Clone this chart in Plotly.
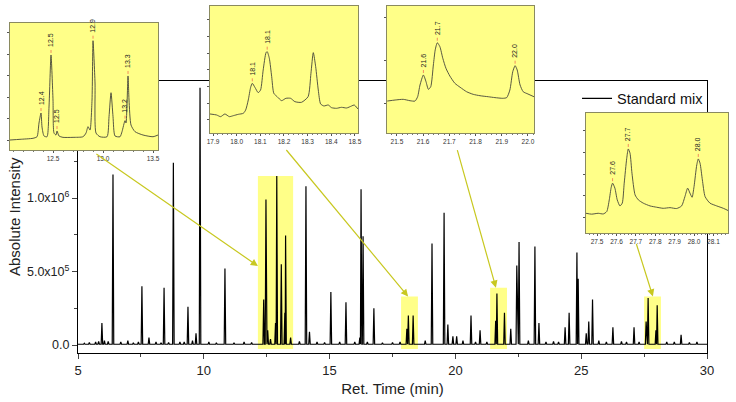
import plotly.graph_objects as go

# ---------------- data ----------------
# main chromatogram: apex retention time (min) and apex intensity
peak_rt = [5.95, 6.39, 7.54, 7.82, 8.42, 8.79, 9.37, 9.69, 9.85, 10.84,
           12.38, 12.47, 12.54, 12.85, 12.90, 13.08, 13.22, 13.25, 14.06, 14.20,
           15.05, 15.65, 16.20, 16.25, 16.33, 16.76, 18.07, 18.13, 18.32, 19.07,
           19.55, 19.70, 19.90, 20.05, 20.62, 20.98, 21.60, 21.65, 21.95, 22.20,
           22.44, 22.53, 23.16, 23.32, 24.36, 24.52, 24.83, 24.88, 25.20, 25.30,
           25.45, 26.26, 27.10, 27.58, 27.66, 27.97, 28.02, 28.97]
peak_int = [0.15e6, 1.16e6, 0.40e6, 0.05e6, 0.39e6, 1.24e6, 0.26e6, 0.08e6, 1.75e6, 0.52e6,
            0.31e6, 0.99e6, 0.10e6, 0.15e6, 1.15e6, 0.55e6, 0.22e6, 0.745e6, 1.08e6, 0.09e6,
            0.36e6, 0.29e6, 0.05e6, 1.06e6, 0.74e6, 0.25e6, 0.11e6, 0.20e6, 0.20e6, 0.69e6,
            0.90e6, 0.14e6, 0.06e6, 0.06e6, 0.20e6, 0.10e6, 0.165e6, 0.35e6, 0.22e6, 0.11e6,
            0.54e6, 0.70e6, 0.67e6, 0.15e6, 0.12e6, 0.22e6, 0.63e6, 0.45e6, 0.08e6, 0.16e6,
            0.31e6, 0.12e6, 0.12e6, 0.16e6, 0.32e6, 0.10e6, 0.27e6, 0.07e6]
# small baseline bumps
noise_rt = [5.25, 5.45, 5.70, 5.82, 6.05, 6.20, 6.70, 6.98, 7.20, 7.40, 8.10, 8.30,
            8.60, 9.05, 9.22, 9.55, 10.20, 10.50, 11.20, 11.60, 11.90, 12.65, 13.45,
            13.80, 14.50, 14.80, 15.40, 16.00, 16.50, 17.10, 17.50, 17.80, 18.80,
            20.30, 20.80, 21.25, 22.90, 23.60, 23.90, 24.10, 25.70, 26.00, 26.60,
            26.80, 27.30, 28.40, 28.70, 29.30, 29.60]
noise_int = [0.012e6, 0.018e6, 0.02e6, 0.025e6, 0.03e6, 0.025e6, 0.02e6, 0.03e6, 0.015e6,
             0.02e6, 0.02e6, 0.015e6, 0.018e6, 0.02e6, 0.02e6, 0.03e6, 0.02e6, 0.015e6,
             0.015e6, 0.02e6, 0.018e6, 0.04e6, 0.05e6, 0.025e6, 0.02e6, 0.018e6, 0.02e6,
             0.02e6, 0.02e6, 0.015e6, 0.018e6, 0.02e6, 0.03e6, 0.03e6, 0.02e6, 0.02e6,
             0.03e6, 0.02e6, 0.025e6, 0.02e6, 0.03e6, 0.02e6, 0.025e6, 0.02e6, 0.02e6,
             0.02e6, 0.02e6, 0.018e6, 0.02e6]
baseline_level = 0.005e6

# zoom windows highlighted on the main chromatogram
win_start = [12.15, 17.84, 21.38, 27.50]
win_end = [13.55, 18.51, 22.05, 28.17]
win_top = [1.15e6, 0.33e6, 0.39e6, 0.33e6]
win_bottom = -0.027e6

# inset traces (retention time, intensity)
ins1_t = [12.07, 12.17, 12.30, 12.34, 12.36, 12.38, 12.39, 12.41, 12.44, 12.46, 12.48, 12.50,
          12.51, 12.53, 12.54, 12.56, 12.60, 12.70, 12.80, 12.83, 12.85, 12.87, 12.89, 12.90,
          12.92, 12.93, 12.97, 13.04, 13.06, 13.08, 13.10, 13.12, 13.17, 13.19, 13.22, 13.23,
          13.25, 13.26, 13.28, 13.32, 13.40, 13.50, 13.55]
ins1_i = [0.0, 0.008e6, 0.02e6, 0.038e6, 0.198e6, 0.314e6, 0.151e6, 0.047e6, 0.038e6, 0.384e6,
          0.989e6, 0.465e6, 0.081e6, 0.058e6, 0.105e6, 0.047e6, 0.031e6, 0.031e6, 0.038e6,
          0.081e6, 0.155e6, 0.116e6, 0.465e6, 1.155e6, 0.663e6, 0.081e6, 0.038e6, 0.038e6,
          0.271e6, 0.55e6, 0.271e6, 0.047e6, 0.038e6, 0.097e6, 0.225e6, 0.198e6, 0.745e6,
          0.465e6, 0.174e6, 0.097e6, 0.058e6, 0.038e6, 0.058e6]
ins2_t = [17.887, 17.915, 17.932, 17.950, 17.969, 17.986, 18.007, 18.028, 18.038, 18.049,
          18.059, 18.066, 18.077, 18.091, 18.101, 18.112, 18.124, 18.129, 18.138, 18.148,
          18.157, 18.171, 18.190, 18.208, 18.228, 18.246, 18.274, 18.302, 18.314, 18.324,
          18.334, 18.345, 18.355, 18.369, 18.387, 18.401, 18.422, 18.443, 18.465, 18.486,
          18.497, 18.513]
ins2_i = [0.018e6, 0.015e6, 0.010e6, 0.018e6, 0.010e6, 0.013e6, 0.017e6, 0.020e6, 0.030e6,
          0.060e6, 0.098e6, 0.110e6, 0.098e6, 0.082e6, 0.090e6, 0.150e6, 0.202e6, 0.205e6,
          0.185e6, 0.130e6, 0.080e6, 0.070e6, 0.058e6, 0.065e6, 0.065e6, 0.055e6, 0.053e6,
          0.070e6, 0.140e6, 0.202e6, 0.160e6, 0.090e6, 0.048e6, 0.042e6, 0.045e6, 0.037e6,
          0.035e6, 0.038e6, 0.036e6, 0.042e6, 0.045e6, 0.033e6]
ins3_t = [21.463, 21.493, 21.524, 21.550, 21.569, 21.579, 21.588, 21.601, 21.611, 21.620,
          21.629, 21.639, 21.646, 21.654, 21.664, 21.675, 21.687, 21.702, 21.721, 21.741,
          21.766, 21.791, 21.817, 21.849, 21.874, 21.904, 21.919, 21.931, 21.942, 21.951,
          21.959, 21.970, 21.982, 22.000, 22.023]
ins3_i = [0.014e6, 0.020e6, 0.024e6, 0.016e6, 0.014e6, 0.039e6, 0.107e6, 0.165e6, 0.126e6,
          0.082e6, 0.097e6, 0.223e6, 0.310e6, 0.352e6, 0.329e6, 0.262e6, 0.204e6, 0.159e6,
          0.117e6, 0.094e6, 0.068e6, 0.053e6, 0.045e6, 0.039e6, 0.034e6, 0.030e6, 0.034e6,
          0.078e6, 0.184e6, 0.219e6, 0.194e6, 0.107e6, 0.068e6, 0.055e6, 0.039e6]
ins4_t = [27.443, 27.472, 27.506, 27.532, 27.550, 27.563, 27.573, 27.580, 27.592, 27.604,
          27.618, 27.630, 27.640, 27.653, 27.661, 27.670, 27.680, 27.696, 27.713, 27.738,
          27.773, 27.807, 27.841, 27.876, 27.910, 27.936, 27.953, 27.967, 27.979, 27.990,
          28.000, 28.014, 28.022, 28.031, 28.043, 28.057, 28.082, 28.117, 28.151, 28.177]
ins4_i = [0.019e6, 0.015e6, 0.019e6, 0.016e6, 0.027e6, 0.081e6, 0.139e6, 0.158e6, 0.135e6,
          0.081e6, 0.053e6, 0.066e6, 0.158e6, 0.273e6, 0.316e6, 0.296e6, 0.204e6, 0.104e6,
          0.081e6, 0.066e6, 0.053e6, 0.047e6, 0.042e6, 0.045e6, 0.041e6, 0.053e6, 0.096e6,
          0.135e6, 0.112e6, 0.093e6, 0.142e6, 0.242e6, 0.270e6, 0.250e6, 0.173e6, 0.096e6,
          0.066e6, 0.053e6, 0.042e6, 0.031e6]

# peak labels in the insets: (inset index, rt, apex intensity, text)
lab_inset = [0, 0, 0, 0, 0, 0, 1, 1, 2, 2, 2, 3, 3, 3]
lab_rt = [12.38, 12.48, 12.54, 12.90, 13.22, 13.25, 18.066, 18.129, 21.601, 21.654, 21.951,
          27.580, 27.661, 28.022]
lab_int = [0.314e6, 0.989e6, 0.105e6, 1.155e6, 0.225e6, 0.745e6, 0.110e6, 0.205e6, 0.165e6,
           0.352e6, 0.219e6, 0.158e6, 0.316e6, 0.270e6]
lab_text = ['12.4', '12.5', '12.5', '12.9', '13.2', '13.3', '18.1', '18.1', '21.6', '21.7',
            '22.0', '27.6', '27.7', '28.0']

# ---------------- build main trace polyline ----------------
pk = sorted(zip(peak_rt + noise_rt, peak_int + noise_int))
hw = 0.03
mx, my = [5.0], [baseline_level]
for k, (t, h) in enumerate(pk):
    lo = t - hw
    hi = t + hw
    if k > 0:
        lo = max(lo, (t + pk[k - 1][0]) / 2)
    if k < len(pk) - 1:
        hi = min(hi, (t + pk[k + 1][0]) / 2)
    mx += [lo, t, hi]
    my += [baseline_level, h, baseline_level]
mx.append(30.0)
my.append(baseline_level)

FONT = "Liberation Sans, Arial, sans-serif"
YEL = "#FFFF88"
ARROW = "#C8C820"

fig = go.Figure()
fig.add_trace(go.Scatter(x=mx, y=my, mode="lines", name="Standard mix",
                         line=dict(color="black", width=1.2), xaxis="x", yaxis="y"))

ins_t = [ins1_t, ins2_t, ins3_t, ins4_t]
ins_i = [ins1_i, ins2_i, ins3_i, ins4_i]
for k in range(4):
    fig.add_trace(go.Scatter(x=ins_t[k], y=ins_i[k], mode="lines", showlegend=False,
                             line=dict(color="#45453a", width=0.9, shape="spline", smoothing=0.6),
                             xaxis=f"x{k + 2}", yaxis=f"y{k + 2}"))

# inset layout specs
ins_xdom = [[0.0136, 0.2147], [0.2853, 0.4864], [0.5258, 0.7255], [0.7962, 0.9891]]
ins_ydom = [[0.6269, 0.9428], [0.6692, 0.9851], [0.6692, 0.9851], [0.4204, 0.7189]]
ins_xr = [[12.07, 13.55], [17.887, 18.513], [21.462, 22.023], [27.443, 28.175]]
ins_yr = [[-0.116e6, 1.361e6], [-0.039e6, 0.342e6], [-0.171e6, 0.565e6], [-0.072e6, 0.482e6]]
ins_dtick = [0.5, 0.1, 0.1, 0.1]
ins_minor = [0.1, 0.02, 0.02, 0.02]
ins_ydtick = [0.25e6, 0.05e6, 0.25e6, 0.1e6]

main_xdom = [0.106, 0.9606]
main_ydom = [0.1219, 0.7985]

layout = dict(
    width=736, height=402, margin=dict(l=0, r=0, t=0, b=0, autoexpand=False),
    paper_bgcolor="white", plot_bgcolor="white",
    font=dict(family=FONT, color="#222"),
    showlegend=True,
    legend=dict(x=0.784, y=0.795, xanchor="left", yanchor="top", bgcolor="rgba(0,0,0,0)",
                font=dict(size=14.5, family=FONT, color="#111"), itemwidth=30),
    xaxis=dict(domain=main_xdom, range=[5, 30], anchor="y",
               tickvals=[5, 10, 15, 20, 25, 30], ticks="outside", ticklen=5, tickwidth=1,
               minor=dict(dtick=2.5, tick0=5, ticks="outside", ticklen=3),
               showline=True, mirror=True, linecolor="black", linewidth=1.3,
               showgrid=False, zeroline=False, tickfont=dict(size=13),
               title=dict(text="Ret. Time (min)", font=dict(size=15), standoff=6)),
    yaxis=dict(domain=main_ydom, range=[-0.0544e6, 1.796e6], anchor="x",
               tickvals=[0, 0.5e6, 1.0e6],
               ticktext=["0.0", "5.0x10<sup>5</sup>", "1.0x10<sup>6</sup>"],
               ticks="outside", ticklen=5,
               minor=dict(dtick=0.25e6, tick0=0, ticks="outside", ticklen=3),
               showline=True, mirror=True, linecolor="black", linewidth=1.3,
               showgrid=False, zeroline=False, tickfont=dict(size=12.5)),
)
for k in range(4):
    layout[f"xaxis{k + 2}"] = dict(
        domain=ins_xdom[k], range=ins_xr[k], anchor=f"y{k + 2}",
        dtick=ins_dtick[k], tick0=0, ticks="outside", ticklen=2.5, tickwidth=0.7,
        tickcolor="#555", minor=dict(dtick=ins_minor[k], ticks="outside", ticklen=1.5,
                                     tickcolor="#777"),
        showline=True, mirror=True, linecolor="#8a8a60", linewidth=0.8,
        showgrid=False, zeroline=False, tickfont=dict(size=6.5, color="#333"),
        tickformat=".1f")
    layout[f"yaxis{k + 2}"] = dict(
        domain=ins_ydom[k], range=ins_yr[k], anchor=f"x{k + 2}",
        dtick=ins_ydtick[k], tick0=0, ticks="outside", ticklen=2.5, tickwidth=0.7,
        tickcolor="#555", showticklabels=False,
        showline=True, mirror=True, linecolor="#8a8a60", linewidth=0.8,
        showgrid=False, zeroline=False)
fig.update_layout(**layout)

shapes = []
for k in range(4):
    shapes.append(dict(type="rect", xref=f"x{k + 2}", yref=f"y{k + 2}",
                       x0=ins_xr[k][0], x1=ins_xr[k][1], y0=ins_yr[k][0], y1=ins_yr[k][1],
                       fillcolor=YEL, line=dict(width=0), layer="below"))
    shapes.append(dict(type="rect", xref="x", yref="y", x0=win_start[k], x1=win_end[k],
                       y0=win_bottom, y1=win_top[k], fillcolor=YEL,
                       line=dict(width=0), layer="below"))
annotations = []
for k in range(len(lab_text)):
    i = lab_inset[k]
    shapes.append(dict(type="line", xref=f"x{i + 2}", yref=f"y{i + 2}",
                       x0=lab_rt[k], x1=lab_rt[k], ysizemode="pixel", yanchor=lab_int[k],
                       y0=2, y1=5, line=dict(color="#f07050", width=0.8)))
    annotations.append(dict(xref=f"x{i + 2}", yref=f"y{i + 2}", x=lab_rt[k], y=lab_int[k],
                            text=lab_text[k], textangle=-90, showarrow=False,
                            xanchor="center", yanchor="bottom", yshift=6,
                            font=dict(size=7, color="#222", family=FONT)))

# y-axis title
annotations.append(dict(xref="paper", yref="paper", x=15 / 736, y=sum(main_ydom) / 2,
                        text="Absolute Intensity", textangle=-90, showarrow=False,
                        xanchor="center", yanchor="middle",
                        font=dict(size=15, family=FONT, color="#222")))

# arrows from insets to highlighted windows (head in data coords, tail offset in px)
arrow_x = [win_start[0], 18.12, 21.61, 27.85]
arrow_y = [0.537e6, win_top[1], win_top[2], win_top[3]]
arrow_ax = [-163, -123, -39, -17]
arrow_ay = [-113, -148, -139, -54]
for k in range(4):
    annotations.append(dict(xref="x", yref="y", x=arrow_x[k], y=arrow_y[k], ax=arrow_ax[k],
                            ay=arrow_ay[k], text="", showarrow=True, arrowhead=2,
                            arrowsize=1.2, arrowwidth=1.2, arrowcolor=ARROW))
fig.update_layout(shapes=shapes, annotations=annotations)

fig.write_html("out.html")
